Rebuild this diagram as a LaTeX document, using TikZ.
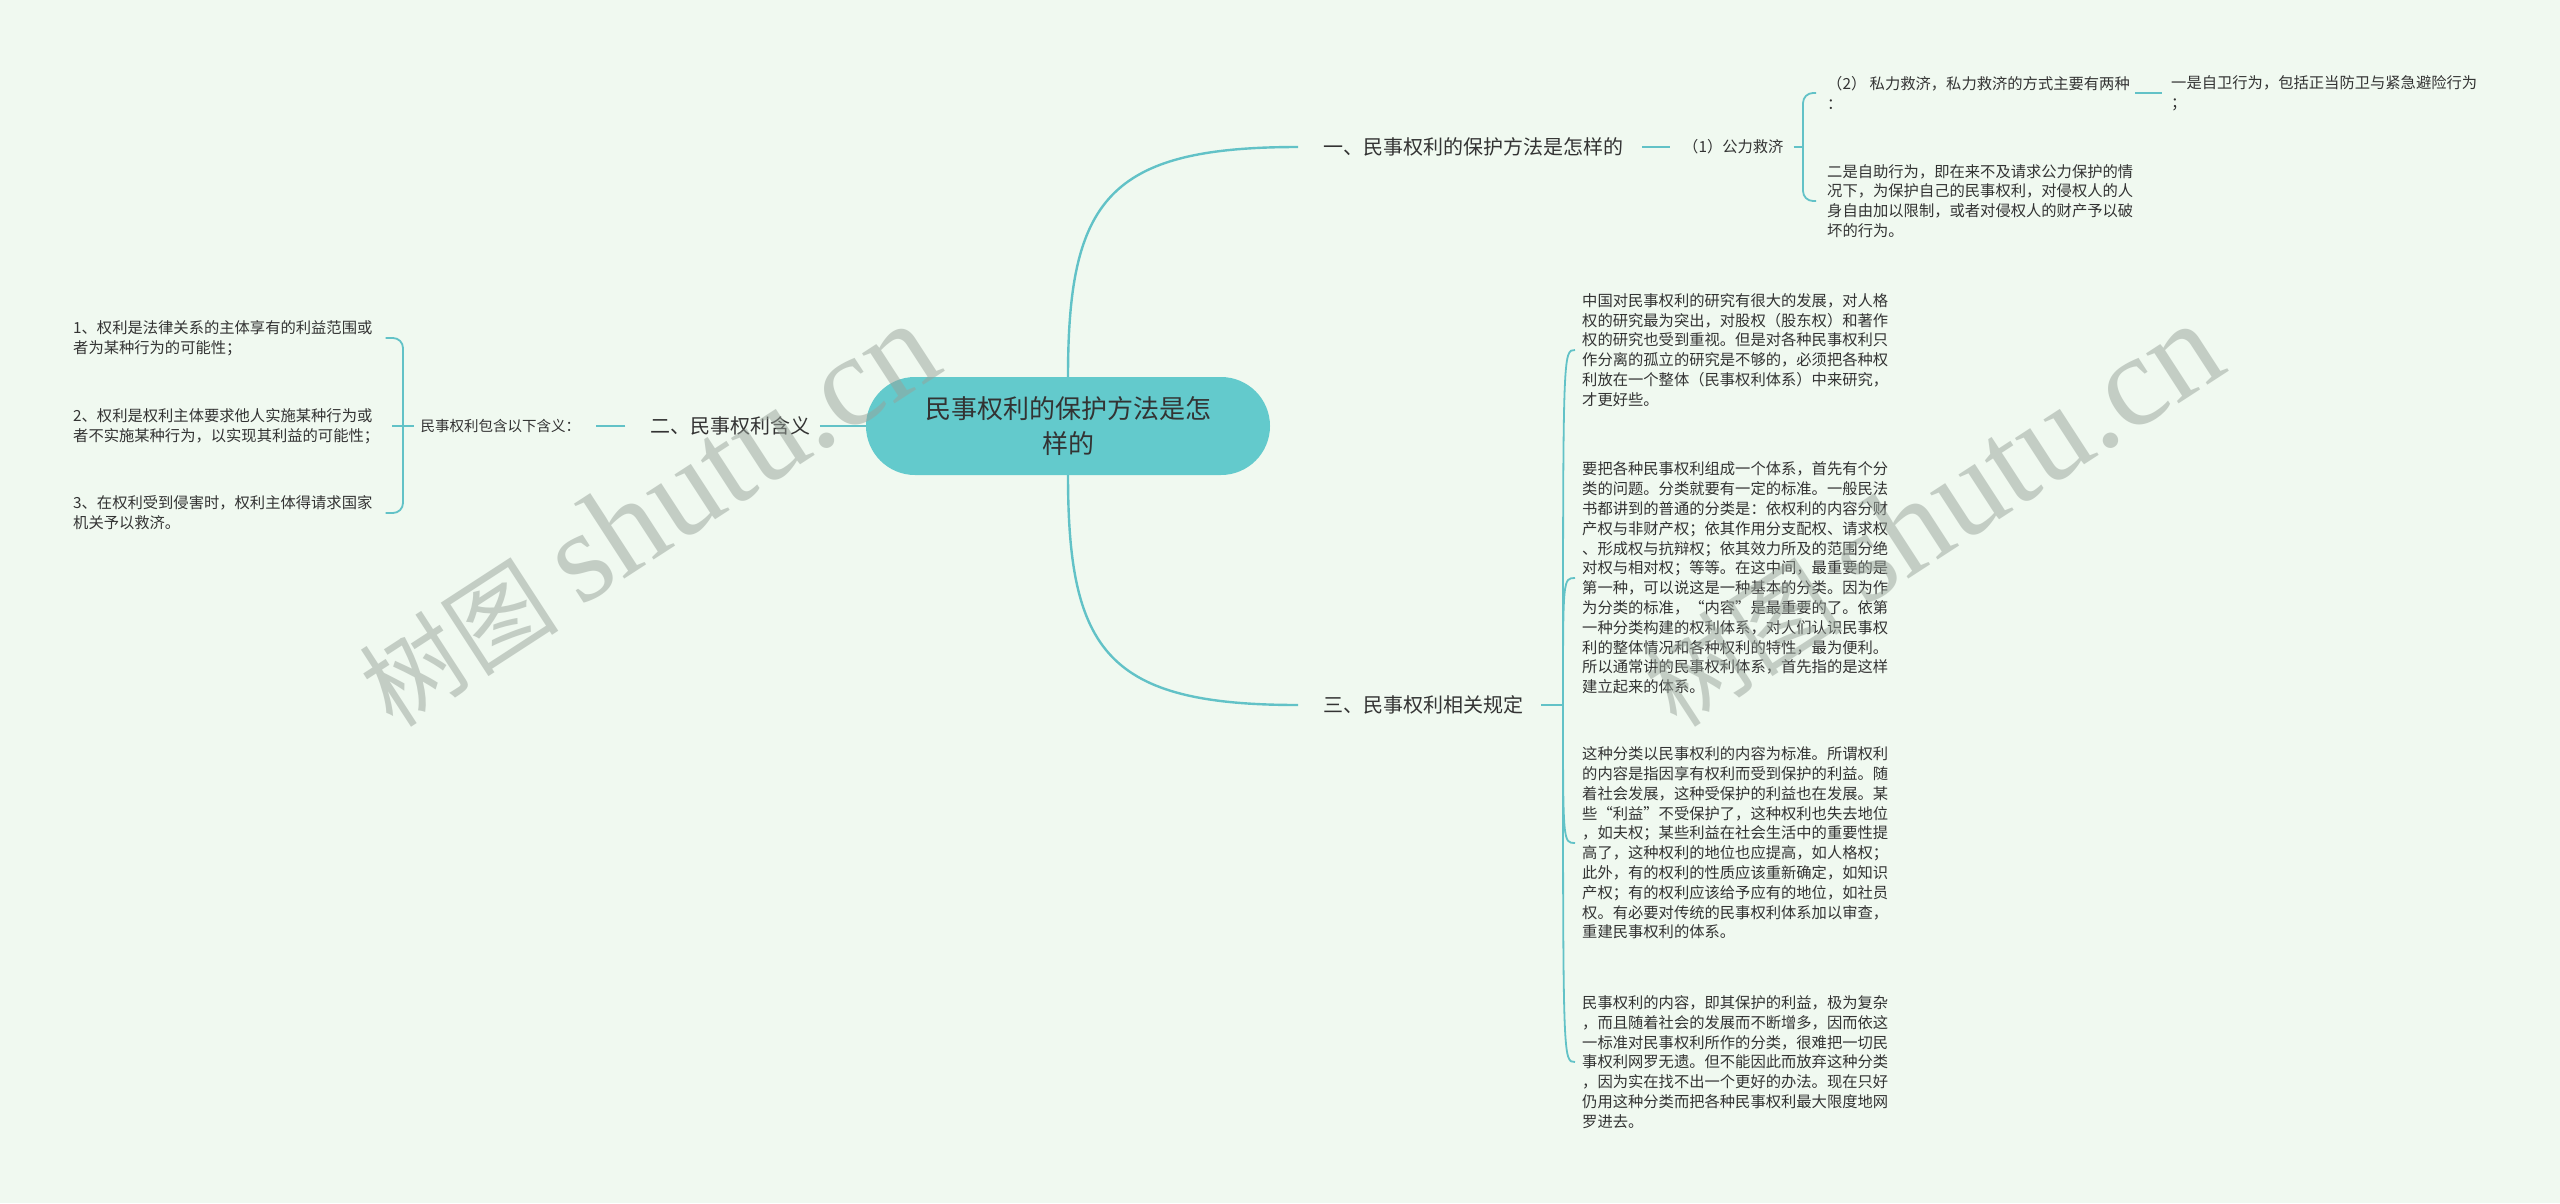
\documentclass[tikz,border=0pt]{standalone}
\usepackage{fontspec}
\setmainfont{Noto Sans CJK SC}
\newfontfamily\wmfont{Liberation Serif}
\usetikzlibrary{positioning, calc}

\definecolor{bgmint}{HTML}{F0F9F0}
\definecolor{linecol}{HTML}{62C2C7}
\definecolor{rootfill}{HTML}{63CACC}
\definecolor{textdark}{HTML}{333333}
\definecolor{wmgray}{HTML}{97A299}

\tikzset{
  link/.style={draw=linecol, line width=2.4pt},
  twig/.style={draw=linecol, line width=1.8pt},
  rootnode/.style={fill=rootfill, rounded corners=49pt, minimum width=404pt, minimum height=98pt,
    align=center, text=textdark, font=\fontsize{26}{35}\selectfont},
  branch/.style={inner sep=0pt, text=textdark, font=\fontsize{20}{24}\selectfont},
  leaf/.style={inner sep=0pt, align=left, text=textdark, font=\fontsize{15.3}{19.8}\selectfont},
  watermark/.style={rotate=33, text=wmgray, text opacity=0.5, font=\fontsize{100}{100}\selectfont}
}

\begin{document}
\begin{tikzpicture}[x=1pt, y=-1pt]
    \useasboundingbox (0,0) rectangle (2560,1203);
    \fill[bgmint] (0,0) rectangle (2560,1203);

    % 中心主题
    \node[rootnode] (root) at (1068,426) {民事权利的保护方法是怎\\样的};

    % 一级分支
    \node[branch, anchor=west] (b1) at (1323,147) {一、民事权利的保护方法是怎样的};
    \node[branch, left=55pt of root] (b2) {二、民事权利含义};
    \node[branch, anchor=west] (b3) at (1323,705) {三、民事权利相关规定};
    \draw[link, shorten >=25pt] (root.north) .. controls +(0,-177) and +(-215,0) .. (b1.west);
    \draw[link, shorten >=25pt] (root.south) .. controls +(0,177) and +(-215,0) .. (b3.west);
    \draw[link, shorten <=9pt] (b2.east) -- (root.west);

    % 二、民事权利含义
    \node[leaf, left=70pt of b2, font=\fontsize{14.5}{19.8}\selectfont] (lbl2) {民事权利包含以下含义：};
    \coordinate (j2) at (403,426);
    \draw[twig, shorten <=25pt, shorten >=16pt] (b2.west) -- (lbl2.east);
    \draw[twig, shorten <=7pt] (lbl2.west) -- (j2);
    \node[leaf, anchor=west] (i1) at (73,338) {1、权利是法律关系的主体享有的利益范围或\\者为某种行为的可能性；};
    \node[leaf, anchor=west] (i2) at (73,426) {2、权利是权利主体要求他人实施某种行为或\\者不实施某种行为，以实现其利益的可能性；};
    \node[leaf, anchor=west] (i3) at (73,513) {3、在权利受到侵害时，权利主体得请求国家\\机关予以救济。};
    \foreach \k in {1,3} {
        \draw[twig, rounded corners=10pt, shorten >=13pt] (j2) |- (i\k.east);
    }
    \draw[twig, shorten >=13pt] (j2) -- (i2.east);

    % 一、保护方法
    \node[leaf, anchor=west] (p1) at (1683,147) {（1）公力救济};
    \draw[twig, shorten <=19pt, shorten >=13pt] (b1.east) -- (p1.west);
    \coordinate (j1) at (1803,147);
    \draw[twig, shorten <=10pt] (p1.east) -- (j1);
    \node[leaf, anchor=west] (c1a) at (1827,93) {（2） 私力救济，私力救济的方式主要有两种\\：};
    \node[leaf, anchor=west] (c1b) at (1827,201) {二是自助行为，即在来不及请求公力保护的情\\况下，为保护自己的民事权利，对侵权人的人\\身自由加以限制，或者对侵权人的财产予以破\\坏的行为。};
    \foreach \n in {c1a,c1b} {
        \draw[twig, rounded corners=10pt, shorten >=11pt] (j1) |- (\n.west);
    }
    \node[leaf, right=41pt of c1a] (c1a1) {一是自卫行为，包括正当防卫与紧急避险行为\\；};
    \draw[twig, shorten <=5pt, shorten >=9pt] (c1a.east) -- (c1a1.west);

    % 三、相关规定
    \coordinate (j3) at (1563,705);
    \draw[twig, shorten <=18pt] (b3.east) -- (j3);
    \node[leaf, anchor=west] (c31) at (1582,350) {中国对民事权利的研究有很大的发展，对人格\\权的研究最为突出，对股权（股东权）和著作\\权的研究也受到重视。但是对各种民事权利只\\作分离的孤立的研究是不够的，必须把各种权\\利放在一个整体（民事权利体系）中来研究，\\才更好些。};
    \node[leaf, anchor=west] (c32) at (1582,578) {要把各种民事权利组成一个体系，首先有个分\\类的问题。分类就要有一定的标准。一般民法\\书都讲到的普通的分类是：依权利的内容分财\\产权与非财产权；依其作用分支配权、请求权\\、形成权与抗辩权；依其效力所及的范围分绝\\对权与相对权；等等。在这中间，最重要的是\\第一种，可以说这是一种基本的分类。因为作\\为分类的标准，“内容”是最重要的了。依第\\一种分类构建的权利体系，对人们认识民事权\\利的整体情况和各种权利的特性，最为便利。\\所以通常讲的民事权利体系，首先指的是这样\\建立起来的体系。};
    \node[leaf, anchor=west] (c33) at (1582,843) {这种分类以民事权利的内容为标准。所谓权利\\的内容是指因享有权利而受到保护的利益。随\\着社会发展，这种受保护的利益也在发展。某\\些“利益”不受保护了，这种权利也失去地位\\，如夫权；某些利益在社会生活中的重要性提\\高了，这种权利的地位也应提高，如人格权；\\此外，有的权利的性质应该重新确定，如知识\\产权；有的权利应该给予应有的地位，如社员\\权。有必要对传统的民事权利体系加以审查，\\重建民事权利的体系。};
    \node[leaf, anchor=west] (c34) at (1582,1062) {民事权利的内容，即其保护的利益，极为复杂\\，而且随着社会的发展而不断增多，因而依这\\一标准对民事权利所作的分类，很难把一切民\\事权利网罗无遗。但不能因此而放弃这种分类\\，因为实在找不出一个更好的办法。现在只好\\仍用这种分类而把各种民事权利最大限度地网\\罗进去。};
    \foreach \k in {1,...,4} {
        \draw[twig, shorten >=7pt] (j3) .. controls (j3 |- c3\k.west) .. (c3\k.west);
    }

    % 水印
    \node[watermark] (wm1) at (648,515) {树图 {\wmfont\fontsize{130}{130}\selectfont shutu.cn}};
    \node[watermark] (wm2) at (1932,515) {树图 {\wmfont\fontsize{130}{130}\selectfont shutu.cn}};
\end{tikzpicture}
\end{document}
